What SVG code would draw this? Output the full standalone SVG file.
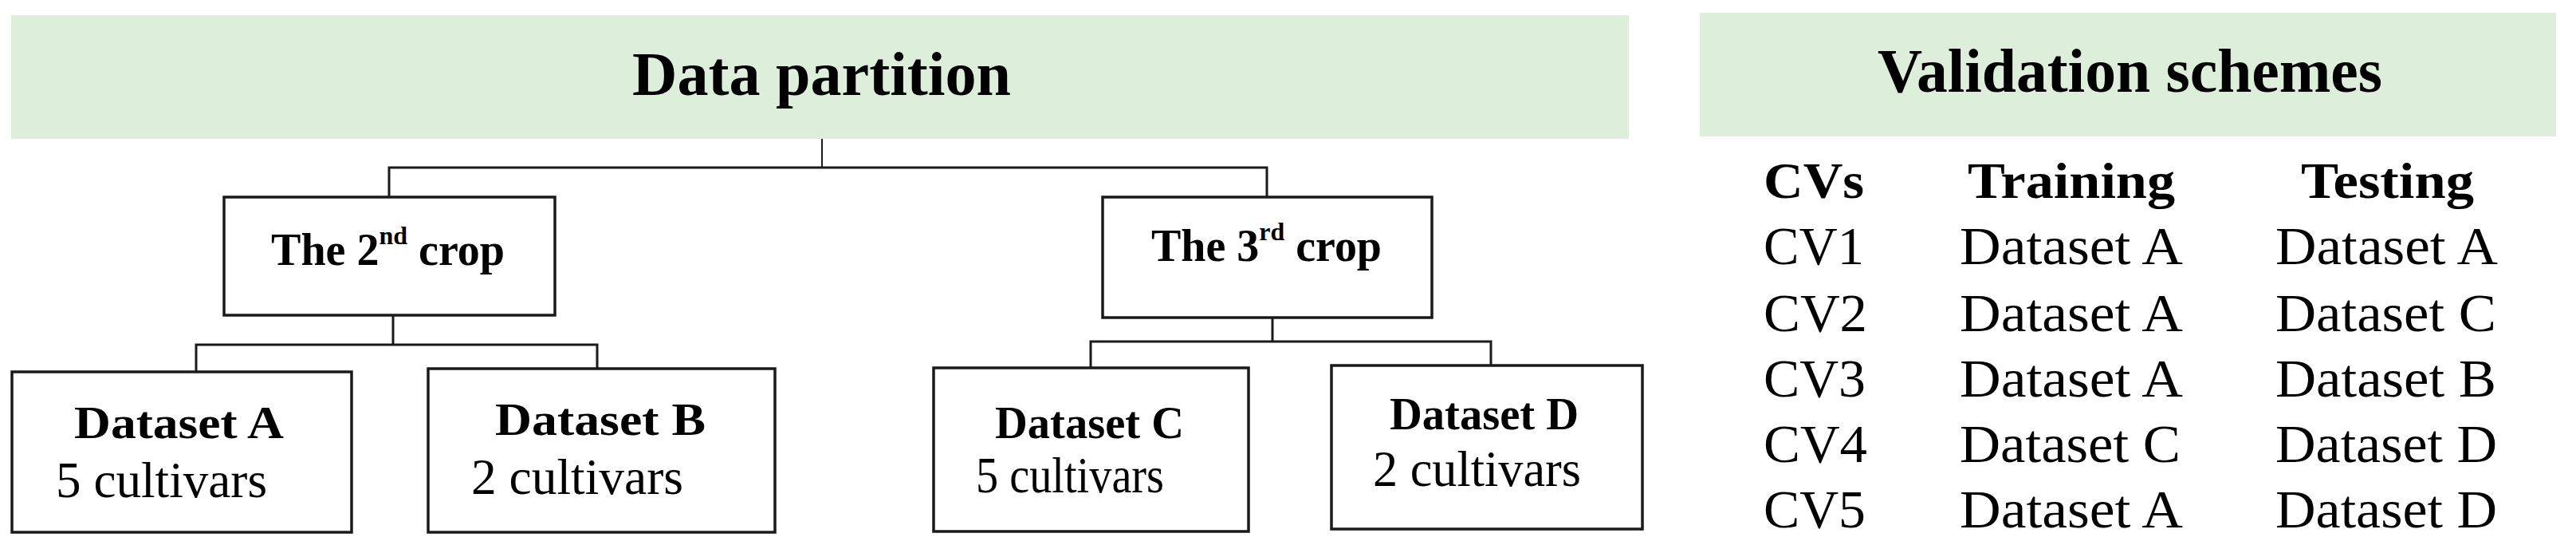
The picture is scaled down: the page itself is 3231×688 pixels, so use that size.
<svg xmlns="http://www.w3.org/2000/svg" width="3231" height="688" viewBox="0 0 3231 688">
<style>
.banner{fill:#DDEFDA;stroke:none}
.box{fill:#ffffff;stroke:#1a1a1a;stroke-width:3.5}
.conn{fill:none;stroke:#1a1a1a;stroke-width:3}
.thin{fill:none;stroke:#1a1a1a;stroke-width:2}
text{font-family:"Liberation Serif","Times New Roman",serif;fill:#000}
.title{font-size:78px;font-weight:bold}
.nodeb{font-size:56px;font-weight:bold}
.dsb{font-size:58px;font-weight:bold}
.cult{font-size:64px}
.hdr{font-size:63px;font-weight:bold}
.cell{font-size:67px}
</style>
<rect width="3231" height="688" fill="#ffffff"/>

<g id="connectors">
  <path class="thin" d="M1031,174 V210"/>
  <path class="conn" d="M488,247 V210 H1589 V247"/>
  <path class="conn" d="M493,396 V432"/>
  <path class="conn" d="M246,466 V432 H749 V462"/>
  <path class="conn" d="M1596,399 V428"/>
  <path class="conn" d="M1368,461 V428 H1870 V458"/>
</g>

<g id="data-partition">
  <rect class="banner" x="14" y="19" width="2029" height="155"/>
  <text class="title" x="793" y="119" textLength="475" lengthAdjust="spacingAndGlyphs">Data partition</text>
</g>

<g id="crop2">
  <rect class="box" x="281" y="247" width="415" height="148"/>
  <text class="nodeb" x="340" y="332" textLength="293" lengthAdjust="spacingAndGlyphs">The 2<tspan font-size="32" dy="-26">nd</tspan><tspan dy="26"> crop</tspan></text>
</g>

<g id="crop3">
  <rect class="box" x="1383" y="247" width="413" height="151"/>
  <text class="nodeb" x="1444" y="327" textLength="289" lengthAdjust="spacingAndGlyphs">The 3<tspan font-size="32" dy="-26">rd</tspan><tspan dy="26"> crop</tspan></text>
</g>

<g id="datasetA">
  <rect class="box" x="15" y="466" width="426" height="201"/>
  <text class="dsb" x="93" y="549" textLength="263" lengthAdjust="spacingAndGlyphs">Dataset A</text>
  <text class="cult" x="70" y="623" textLength="265" lengthAdjust="spacingAndGlyphs">5 cultivars</text>
</g>

<g id="datasetB">
  <rect class="box" x="537" y="462" width="435" height="205"/>
  <text class="dsb" x="621" y="545" textLength="264" lengthAdjust="spacingAndGlyphs">Dataset B</text>
  <text class="cult" x="591" y="619" textLength="266" lengthAdjust="spacingAndGlyphs">2 cultivars</text>
</g>

<g id="datasetC">
  <rect class="box" x="1171" y="461" width="395" height="205"/>
  <text class="dsb" x="1248" y="549" font-size="55" textLength="237" lengthAdjust="spacingAndGlyphs">Dataset C</text>
  <text class="cult" x="1224" y="617" font-size="60" textLength="236" lengthAdjust="spacingAndGlyphs">5 cultivars</text>
</g>

<g id="datasetD">
  <rect class="box" x="1670" y="458" width="390" height="205"/>
  <text class="dsb" x="1743" y="538" font-size="55" textLength="237" lengthAdjust="spacingAndGlyphs">Dataset D</text>
  <text class="cult" x="1722" y="609" textLength="261" lengthAdjust="spacingAndGlyphs">2 cultivars</text>
</g>

<g id="validation-schemes">
  <rect class="banner" x="2132" y="16" width="1074" height="155"/>
  <text class="title" x="2355" y="115" textLength="633" lengthAdjust="spacingAndGlyphs">Validation schemes</text>
</g>

<g id="table-header">
  <text class="hdr" x="2212" y="248" textLength="126" lengthAdjust="spacingAndGlyphs">CVs</text>
  <text class="hdr" x="2468" y="248" textLength="260" lengthAdjust="spacingAndGlyphs">Training</text>
  <text class="hdr" x="2886" y="248" textLength="217" lengthAdjust="spacingAndGlyphs">Testing</text>
</g>

<g id="row-cv1">
  <text class="cell" x="2212" y="331" textLength="126" lengthAdjust="spacingAndGlyphs">CV1</text>
  <text class="cell" x="2458" y="331" textLength="280" lengthAdjust="spacingAndGlyphs">Dataset A</text>
  <text class="cell" x="2854" y="331" textLength="279" lengthAdjust="spacingAndGlyphs">Dataset A</text>
</g>
<g id="row-cv2">
  <text class="cell" x="2212" y="415" textLength="130" lengthAdjust="spacingAndGlyphs">CV2</text>
  <text class="cell" x="2458" y="415" textLength="280" lengthAdjust="spacingAndGlyphs">Dataset A</text>
  <text class="cell" x="2854" y="415" textLength="277" lengthAdjust="spacingAndGlyphs">Dataset C</text>
</g>
<g id="row-cv3">
  <text class="cell" x="2212" y="497" textLength="128" lengthAdjust="spacingAndGlyphs">CV3</text>
  <text class="cell" x="2458" y="497" textLength="280" lengthAdjust="spacingAndGlyphs">Dataset A</text>
  <text class="cell" x="2854" y="497" textLength="277" lengthAdjust="spacingAndGlyphs">Dataset B</text>
</g>
<g id="row-cv4">
  <text class="cell" x="2212" y="579" textLength="130" lengthAdjust="spacingAndGlyphs">CV4</text>
  <text class="cell" x="2458" y="579" textLength="277" lengthAdjust="spacingAndGlyphs">Dataset C</text>
  <text class="cell" x="2854" y="579" textLength="278" lengthAdjust="spacingAndGlyphs">Dataset D</text>
</g>
<g id="row-cv5">
  <text class="cell" x="2212" y="661" textLength="128" lengthAdjust="spacingAndGlyphs">CV5</text>
  <text class="cell" x="2458" y="661" textLength="280" lengthAdjust="spacingAndGlyphs">Dataset A</text>
  <text class="cell" x="2854" y="661" textLength="278" lengthAdjust="spacingAndGlyphs">Dataset D</text>
</g>
</svg>
